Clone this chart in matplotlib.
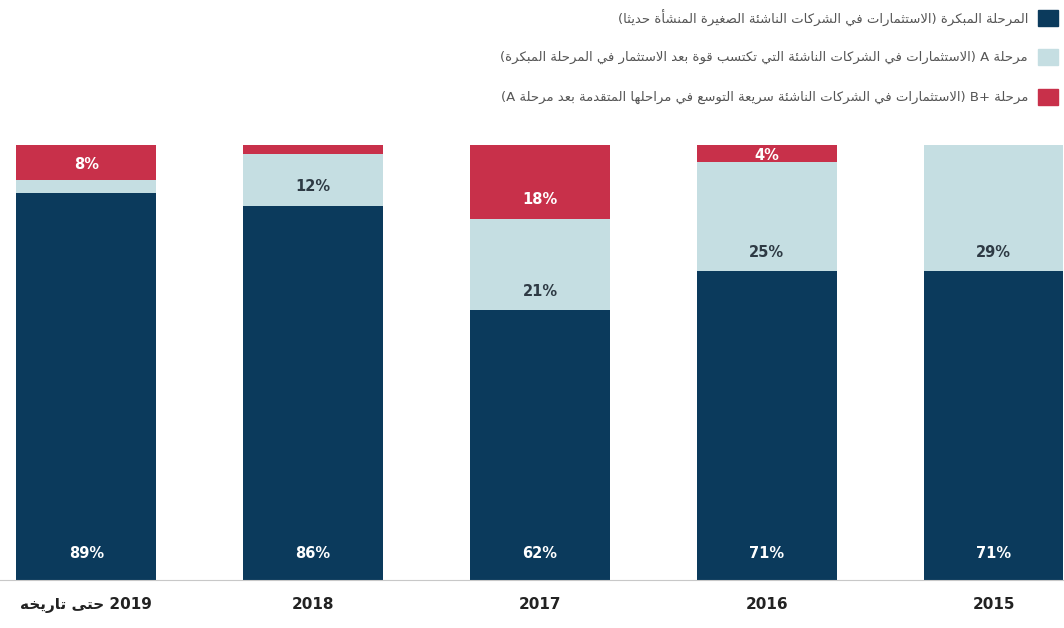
import re
import numpy as np
import matplotlib
matplotlib.use("Agg")
import matplotlib.pyplot as plt
from matplotlib.patches import Rectangle

# Data
years = ["2019 حتى تاريخه", "2018", "2017", "2016", "2015"]
early = [89, 86, 62, 71, 71]
stage_a = [3, 12, 21, 25, 29]
stage_b = [8, 2, 18, 4, 0]
label_a = ["", "12%", "21%", "25%", "29%"]
label_b = ["8%", "", "18%", "4%", ""]
legend_labels = [
    "المرحلة المبكرة (الاستثمارات في الشركات الناشئة الصغيرة المنشأة حديثا)",
    "مرحلة A (الاستثمارات في الشركات الناشئة التي تكتسب قوة بعد الاستثمار في المرحلة المبكرة)",
    "مرحلة B+ (الاستثمارات في الشركات الناشئة سريعة التوسع في مراحلها المتقدمة بعد مرحلة A)",
]

c_dark = "#0b3a5c"
c_light = "#c5dee2"
c_red = "#c8304a"
FONT = ["DejaVu Sans"]


# very small Arabic shaper: contextual forms + visual order
FOUR = {}
TWO = {}
start = {0x0626: 0xFE89, 0x0628: 0xFE8F, 0x062A: 0xFE95, 0x062B: 0xFE99,
         0x062C: 0xFE9D, 0x062D: 0xFEA1, 0x062E: 0xFEA5, 0x0633: 0xFEB1,
         0x0634: 0xFEB5, 0x0635: 0xFEB9, 0x0636: 0xFEBD, 0x0637: 0xFEC1,
         0x0638: 0xFEC5, 0x0639: 0xFEC9, 0x063A: 0xFECD, 0x0641: 0xFED1,
         0x0642: 0xFED5, 0x0643: 0xFED9, 0x0644: 0xFEDD, 0x0645: 0xFEE1,
         0x0646: 0xFEE5, 0x0647: 0xFEE9, 0x064A: 0xFEF1}
for k, v in start.items():
    FOUR[chr(k)] = v
two = {0x0622: 0xFE81, 0x0623: 0xFE83, 0x0624: 0xFE85, 0x0625: 0xFE87,
       0x0627: 0xFE8D, 0x0629: 0xFE93, 0x062F: 0xFEA9, 0x0630: 0xFEAB,
       0x0631: 0xFEAD, 0x0632: 0xFEAF, 0x0648: 0xFEED, 0x0649: 0xFEEF}
for k, v in two.items():
    TWO[chr(k)] = v
LAMALEF = {"ا": 0xFEFB, "أ": 0xFEF7, "إ": 0xFEF9, "آ": 0xFEF5}


def is_ar(ch):
    return ch in FOUR or ch in TWO


def shape_word(s):
    out = []
    i = 0
    n = len(s)
    while i < n:
        ch = s[i]
        prev_joins = i > 0 and s[i - 1] in FOUR and (out and out[-1][1])
        if ch == "ل" and i + 1 < n and s[i + 1] in LAMALEF:
            base = LAMALEF[s[i + 1]]
            out.append((chr(base + (1 if prev_joins else 0)), False))
            i += 2
            continue
        if ch in FOUR:
            nxt = i + 1 < n and is_ar(s[i + 1])
            base = FOUR[ch]
            if prev_joins and nxt:
                g = base + 3
            elif prev_joins:
                g = base + 1
            elif nxt:
                g = base + 2
            else:
                g = base
            out.append((chr(g), True))
        elif ch in TWO:
            out.append((chr(TWO[ch] + (1 if prev_joins else 0)), False))
        else:
            out.append((ch, False))
        i += 1
    return "".join(c for c, _ in out)


def ar(text):
    shaped = shape_word(text)
    vis = shaped[::-1]
    vis = vis.translate(str.maketrans("()", ")("))
    vis = re.sub(r"[A-Za-z0-9%+]+", lambda m: m.group(0)[::-1], vis)
    return vis


fig = plt.figure(figsize=(10.64, 6.28), dpi=100)
ax = fig.add_axes([0.0, 48 / 628, 1.0, 435 / 628])
x = np.arange(len(years))
w = 0.615
early = np.array(early)
stage_a = np.array(stage_a)
stage_b = np.array(stage_b)

ax.bar(x, early, w, color=c_dark)
ax.bar(x, stage_a, w, bottom=early, color=c_light)
ax.bar(x, stage_b, w, bottom=early + stage_a, color=c_red)

fs = 10.5
for i in range(len(years)):
    ax.text(x[i], 6.2, f"{early[i]}%", ha="center", va="center", color="white",
            fontsize=fs, fontweight="bold", family=FONT)
    if label_a[i]:
        ax.text(x[i], early[i] + min(stage_a[i] / 2, 4.4), label_a[i],
                ha="center", va="center", color="#2e3a44", fontsize=fs,
                fontweight="bold", family=FONT)
    if label_b[i]:
        ax.text(x[i], early[i] + stage_a[i] + min(stage_b[i] / 2 - 0.5, 4.4),
                label_b[i], ha="center", va="center", color="white",
                fontsize=fs, fontweight="bold", family=FONT)

ax.set_xlim(-0.38, 4.31)
ax.set_ylim(0, 100)
ax.set_xticks(x)
ax.set_xticklabels([ar(y) for y in years], fontsize=11, fontweight="bold",
                   color="#222222", family=FONT)
ax.tick_params(axis="x", length=0, pad=12)
ax.set_yticks([])
for s in ["top", "right", "left"]:
    ax.spines[s].set_visible(False)
ax.spines["bottom"].set_color("#c8c8c8")
ax.spines["bottom"].set_linewidth(0.8)

# legend (right-aligned, RTL)
colors = [c_dark, c_light, c_red]
ys = [18, 57, 97]
for col, yy, lab in zip(colors, ys, legend_labels):
    fig.patches.append(Rectangle((1038 / 1064, 1 - (yy + 8) / 628), 20 / 1064,
                                 16 / 628, transform=fig.transFigure,
                                 color=col))
    fig.text(1028 / 1064, 1 - yy / 628, ar(lab), ha="right", va="center",
             fontsize=9.5, color="#555555")

fig.savefig("out.png", dpi=100)
